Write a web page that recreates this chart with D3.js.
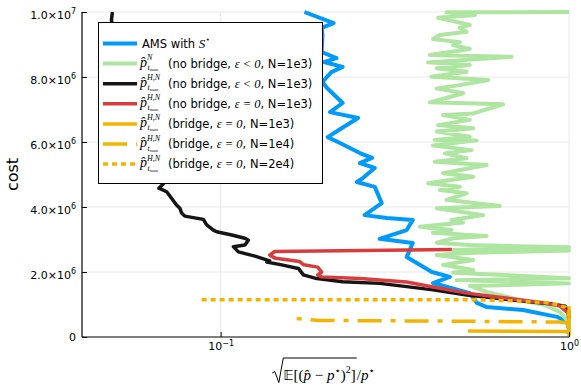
<!DOCTYPE html>
<html>
<head>
<meta charset="utf-8">
<script src="https://cdn.jsdelivr.net/npm/d3@7"></script>
<style>
  body { margin: 0; background: #fff; }
  text { font-family: "DejaVu Sans", sans-serif; fill: #000; }
</style>
</head>
<body>
<svg id="chart" width="581" height="388"></svg>
<script>
// relative error sqrt(E[(p^-p*)^2])/p*  vs  cost (in units of 1e6)
var amsErr  = [0.174,0.211,0.195,0.196,0.195,0.215,0.198,0.224,0.208,0.196,0.202,0.224,0.206,0.248,0.223,0.203,0.220,0.251,0.272,0.251,0.277,0.256,0.246,0.277,0.290,0.259,0.300,0.356,0.342,0.286,0.356,0.342,0.404,0.455,0.407,0.519,0.544,0.581,0.738,0.924,0.987,1.0];
var amsCost = [10.0,9.66,9.51,9.29,8.77,8.58,8.46,8.31,8.15,7.85,7.66,7.20,6.92,6.74,6.43,6.15,5.97,5.66,5.51,5.35,5.20,4.89,4.77,4.62,4.12,3.75,3.66,3.60,3.29,3.02,2.89,2.46,2.00,1.85,1.66,1.35,1.05,0.92,0.83,0.62,0.46,0.22];

var greenErr  = [1.0,0.445,0.537,0.421,0.465,0.519,0.486,0.508,0.426,0.407,0.486,0.465,0.519,0.399,0.684,0.394,0.519,0.417,0.508,0.403,0.586,0.486,0.417,0.497,0.399,0.647,0.531,0.435,0.519,0.421,0.531,0.417,0.519,0.412,0.543,0.407,0.525,0.440,0.508,0.412,0.580,0.435,0.531,0.394,0.486,0.426,0.508,0.445,0.633,0.417,0.567,0.460,0.497,0.373,0.460,0.407,0.580,0.465,0.417,0.519,1.0,0.465,1.0,0.531,0.417,0.531,0.435,0.531,0.465,1.0,0.476,1.0,0.519,0.580,0.723,0.853,0.942,0.987,1.0];
var greenCost = [10.0,9.99,9.91,9.82,9.72,9.60,9.52,9.39,9.29,9.17,9.07,8.98,8.86,8.68,8.62,8.45,8.37,8.27,8.16,8.01,7.91,7.75,7.65,7.50,7.22,7.16,6.88,6.83,6.68,6.52,6.42,6.32,6.16,6.06,6.05,5.89,5.75,5.65,5.50,5.39,5.29,5.04,4.93,4.73,4.62,4.52,4.42,4.22,4.03,3.96,3.75,3.60,3.52,3.39,3.29,3.21,3.11,3.04,2.90,2.83,2.76,2.68,2.66,2.59,2.52,2.37,2.22,2.06,1.98,1.81,1.75,1.65,1.57,1.39,1.14,0.98,0.77,0.52,0.28];

var blackErr  = [0.0489,0.0486,0.0506,0.0540,0.0585,0.0646,0.0684,0.0665,0.0700,0.0723,0.0747,0.0764,0.0773,0.0789,0.0892,0.0912,0.0953,0.0974,0.1076,0.1174,0.1201,0.1174,0.1088,0.1124,0.1255,0.1383,0.1356,0.1497,0.1672,0.1728,0.1866,0.224,0.286,0.342,0.407,0.509,0.690,0.882,0.974,1.0,1.0];
var blackCost = [10.0,9.75,8.52,7.29,6.06,4.98,4.71,4.58,4.47,4.27,4.06,3.96,3.81,3.72,3.62,3.45,3.29,3.24,3.14,3.04,2.98,2.83,2.78,2.62,2.49,2.34,2.31,2.22,2.11,1.91,1.81,1.70,1.65,1.55,1.45,1.29,1.14,1.02,0.95,0.77,0.58];

var redErr  = [0.461,0.1429,0.1383,0.1439,0.1687,0.1732,0.1900,0.195,0.190,0.195,0.251,0.342,0.407,0.509,0.690,0.853,0.942,0.993,1.0];
var redCost = [2.69,2.63,2.52,2.42,2.32,2.22,2.15,2.00,1.91,1.85,1.80,1.69,1.54,1.35,1.17,1.05,0.95,0.74,0.52];

var bridge1Err  = [1.0,1.0,0.980,0.513];
var bridge1Cost = [0.95,0.12,0.17,0.185];
var bridge2Err  = [0.1653,0.1925,0.426,0.942,0.987,1.0,1.0];
var bridge2Cost = [0.57,0.51,0.49,0.46,0.43,0.31,0.02];
var bridge3Err  = [0.0882,0.519,0.700,0.882,0.974,1.0,1.0];
var bridge3Cost = [1.15,1.15,1.11,1.05,0.92,0.74,0.02];

var yTickVals   = [0, 2, 4, 6, 8, 10];
var yTickLabels = ["0", "2.0×10^6", "4.0×10^6", "6.0×10^6", "8.0×10^6", "1.0×10^7"];
var xTickVals   = [0.1, 1];
var xTickLabels = ["10^−1", "10^0"];

var seriesErr   = [amsErr, greenErr, blackErr, redErr, bridge1Err, bridge2Err, bridge3Err];
var seriesCost  = [amsCost, greenCost, blackCost, redCost, bridge1Cost, bridge2Cost, bridge3Cost];
var seriesColor = ["#009afa", "#aee5a1", "#151515", "#d93c3c", "#f2b400", "#f2b400", "#f2b400"];
var seriesDash  = [null, null, null, null, null, "24,9,5,9", "5,4"];
var seriesWidth = [4, 4, 3.5, 3.5, 3.5, 3.5, 3.5];
var seriesSup   = [null, "N", "H,N", "H,N", "H,N", "H,N", "H,N"];
var seriesText  = ["AMS with ", "(no bridge, ε < 0, N=1e3)", "(no bridge, ε < 0, N=1e3)", "(no bridge, ε = 0, N=1e3)",
                   "(bridge, ε = 0, N=1e3)", "(bridge, ε = 0, N=1e4)", "(bridge, ε = 0, N=2e4)"];

var svg = d3.select("#chart");
var plotL = 82, plotR = 569, plotT = 12, plotB = 337;

var x = d3.scaleLog().domain([0.04, 1]).range([plotL, plotR]);
var y = d3.scaleLinear().domain([0, 10]).range([plotB, plotT]);

// superscript helper: "a^b" -> a + raised b
function supText(sel, str, supSize, rise) {
  var parts = str.split("^");
  sel.text(null);
  sel.append("tspan").text(parts[0]);
  if (parts.length > 1) {
    sel.append("tspan").attr("dy", -rise).style("font-size", supSize + "px").text(parts[1]);
  }
}

// grid
svg.append("g").selectAll("line").data(yTickVals.slice(1)).enter().append("line")
  .attr("x1", plotL).attr("x2", plotR)
  .attr("y1", function(d) { return y(d); }).attr("y2", function(d) { return y(d); })
  .attr("stroke", "#e8e8e8").attr("stroke-width", 1);
svg.append("g").selectAll("line").data(xTickVals).enter().append("line")
  .attr("x1", function(d) { return x(d); }).attr("x2", function(d) { return x(d); })
  .attr("y1", plotT).attr("y2", plotB)
  .attr("stroke", "#e8e8e8").attr("stroke-width", 1);

// series
var line = d3.line()
  .x(function(d) { return x(d[0]); })
  .y(function(d) { return y(d[1]); });

for (var s = 0; s < seriesErr.length; s++) {
  var pts = seriesErr[s].map(function(e, i) { return [e, seriesCost[s][i]]; });
  svg.append("path")
    .datum(pts)
    .attr("d", line)
    .attr("fill", "none")
    .attr("stroke", seriesColor[s])
    .attr("stroke-width", seriesWidth[s])
    .attr("stroke-linejoin", "round")
    .attr("stroke-dasharray", seriesDash[s])
    .attr("stroke-dashoffset", s == 5 ? 33 : 0);
}

// axes
var yAxis = svg.append("g").attr("transform", "translate(" + plotL + ",0)")
  .call(d3.axisLeft(y).tickValues(yTickVals).tickSize(-5).tickSizeOuter(0).tickPadding(6));
yAxis.selectAll(".tick text").each(function(d, i) {
  var t = d3.select(this).style("font-size", "11px");
  supText(t, yTickLabels[i], 8, 5);
  if (yTickLabels[i].indexOf("^") > 0) t.attr("dy", "0.6em");
});
var xAxis = svg.append("g").attr("transform", "translate(0," + plotB + ")")
  .call(d3.axisBottom(x).tickValues(xTickVals).tickSize(-5).tickSizeOuter(0).tickPadding(5));
xAxis.selectAll(".tick text").each(function(d, i) {
  var t = d3.select(this).style("font-size", "11px");
  supText(t, xTickLabels[i], 8, 4);
});
svg.selectAll(".domain").attr("stroke", "#000").attr("stroke-width", 1.2);
svg.selectAll(".tick line").attr("stroke", "#000");
yAxis.select(".domain").attr("d", "M0," + plotT + "V" + plotB);
xAxis.select(".domain").attr("d", "M" + plotL + ",0H" + plotR);

// y label
svg.append("text")
  .attr("transform", "translate(12," + ((plotT + plotB) / 2) + ") rotate(-90)")
  .attr("text-anchor", "middle")
  .attr("dy", "0.35em")
  .style("font-size", "16px")
  .text("cost");

// x label: sqrt(E[(p^ - p*)^2]) / p*
var xl = svg.append("g");
var serif = "'Liberation Serif', 'DejaVu Serif', serif";
var inner = xl.append("text").attr("y", 380).style("font-family", serif).style("font-size", "15px");
inner.append("tspan").style("font-family", "'DejaVu Sans'").style("font-size", "14px").text("𝔼");
inner.append("tspan").text("[(");
inner.append("tspan").style("font-style", "italic").text("p\u0302");
inner.append("tspan").text(" − ");
inner.append("tspan").style("font-style", "italic").text("p");
inner.append("tspan").attr("dy", -6).style("font-size", "10px").style("font-family", "'DejaVu Sans'").text("⋆");
inner.append("tspan").attr("dy", 6).text(")");
inner.append("tspan").attr("dy", -7).style("font-size", "10px").text("2");
inner.append("tspan").attr("dy", 7).text("]");
var outer = xl.append("text").attr("y", 380).style("font-family", serif).style("font-size", "15px");
outer.append("tspan").text("/");
outer.append("tspan").style("font-style", "italic").text("p");
outer.append("tspan").attr("dy", -6).style("font-size", "10px").style("font-family", "'DejaVu Sans'").text("⋆");
var w1 = inner.node().getComputedTextLength();
var w2 = outer.node().getComputedTextLength();
var radW = 11;
var x0 = 323 - (radW + w1 + w2) / 2;
inner.attr("x", x0 + radW);
outer.attr("x", x0 + radW + w1 + 1);
xl.append("path")
  .attr("d", "M" + x0 + ",373 l2.5,-1.5 l4,11 l4.5,-24.5 H" + (x0 + radW + w1 + 1))
  .attr("fill", "none").attr("stroke", "#000").attr("stroke-width", 1);

// legend
var lg = svg.append("g");
lg.append("rect").attr("x", 98.5).attr("y", 22.5).attr("width", 224).attr("height", 161)
  .attr("fill", "#fff").attr("stroke", "#000").attr("stroke-width", 1);
for (var k = 0; k < seriesText.length; k++) {
  var ly = 43.5 + k * 20.1;
  lg.append("line").attr("x1", 103).attr("x2", 137).attr("y1", ly).attr("y2", ly)
    .attr("stroke", seriesColor[k]).attr("stroke-width", seriesWidth[k])
    .attr("stroke-dasharray", seriesDash[k]);
  var tx;
  if (seriesSup[k] === null) {
    tx = lg.append("text").attr("x", 142).attr("y", ly + 4).style("font-size", "11.5px");
    tx.append("tspan").text(seriesText[k]);
    tx.append("tspan").style("font-family", serif).style("font-style", "italic").style("font-size", "13px").text("S");
    tx.append("tspan").attr("dy", -6).style("font-size", "8px").text("⋆");
    continue;
  }
  // p-hat with superscript and t_max subscript, kept in one text so parts do not collide
  var mt = lg.append("text").attr("x", 140).attr("y", ly + 3)
    .style("font-family", serif).style("font-style", "italic").style("font-size", "14px");
  mt.append("tspan").text("p\u0302");
  var supSpan = mt.append("tspan").attr("dy", -6.5).style("font-size", "8px").text(seriesSup[k]);
  var pW = mt.node().getSubStringLength(0, 2);
  mt.append("tspan").attr("x", 140 + pW + 0.5).attr("dy", 10).style("font-size", "8px").text("t");
  mt.append("tspan").attr("dy", 1).style("font-size", "5px").text("max");
  var labX = 140 + pW + supSpan.node().getComputedTextLength() + 7;
  tx = lg.append("text").attr("x", Math.max(labX, 168)).attr("y", ly + 4).style("font-size", "11.5px");
  // split the epsilon relation out so it gets math styling
  var m = seriesText[k].match(/^(.*?)(ε [<=] 0)(.*)$/);
  tx.append("tspan").text(m[1]);
  tx.append("tspan").style("font-family", serif).style("font-style", "italic").style("font-size", "12.5px").text(m[2]);
  tx.append("tspan").text(m[3]);
}
</script>
</body>
</html>
